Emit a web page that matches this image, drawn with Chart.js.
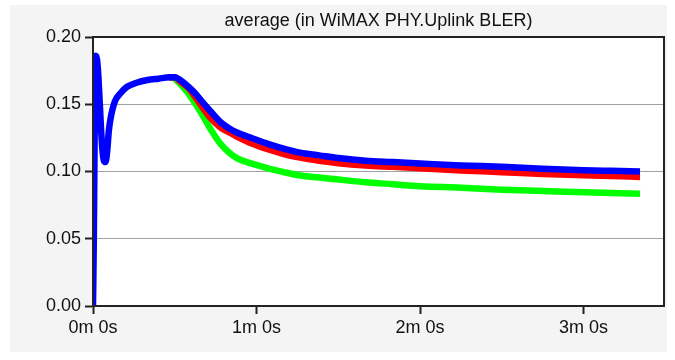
<!DOCTYPE html>
<html>
<head>
<meta charset="utf-8">
<script src="https://cdn.jsdelivr.net/npm/chart.js@4/dist/chart.umd.min.js"></script>
<style>
html,body{margin:0;padding:0;background:#fff;}
#wrap{width:675px;height:360px;}
</style>
</head>
<body>
<div id="wrap"><canvas id="c" width="675" height="360"></canvas></div>
<script>
const chartTitle = "average (in WiMAX PHY.Uplink BLER)";
const xTickValues = [0, 60, 120, 180];
const yTickValues = [0, 0.05, 0.10, 0.15, 0.20];

// time in seconds
const blueTime  = [0, 0.3, 0.5, 0.7, 1.0, 1.5, 2.0, 2.5, 3.0, 3.5, 4.0, 4.6, 5.2, 5.8, 6.5, 8, 10, 12.5, 16, 20, 24, 28, 30, 32, 35, 38, 40.4, 43, 46.6, 50, 52.8, 58, 65, 70, 76, 83, 90, 100, 110, 120, 135, 150, 165, 180, 190, 200.7];
const blueValue = [0, 0.05, 0.10, 0.15, 0.186, 0.183, 0.170, 0.150, 0.130, 0.115, 0.108, 0.107, 0.115, 0.130, 0.140, 0.152, 0.158, 0.163, 0.166, 0.168, 0.169, 0.170, 0.170, 0.168, 0.163, 0.157, 0.151, 0.145, 0.137, 0.132, 0.129, 0.125, 0.120, 0.117, 0.114, 0.112, 0.110, 0.108, 0.107, 0.106, 0.1045, 0.1035, 0.102, 0.101, 0.1005, 0.100];

const redTime  = [28, 30, 32, 35, 38, 40.4, 43, 46.6, 50, 52.8, 58, 65, 70, 76, 83, 90, 100, 110, 120, 135, 150, 165, 180, 190, 200.7];
const redValue = [0.170, 0.170, 0.167, 0.162, 0.154, 0.147, 0.140, 0.133, 0.129, 0.126, 0.121, 0.116, 0.1130, 0.1103, 0.1080, 0.1062, 0.1045, 0.1035, 0.1025, 0.1008, 0.0995, 0.0982, 0.0972, 0.0966, 0.096];

const greenTime  = [28, 30, 32, 35, 38, 40.4, 43, 46.6, 50, 52.8, 58, 65, 70, 76, 83, 90, 100, 110, 120, 135, 150, 165, 180, 190, 200.7];
const greenValue = [0.170, 0.169, 0.165, 0.158, 0.149, 0.141, 0.132, 0.121, 0.114, 0.110, 0.106, 0.102, 0.0995, 0.097, 0.0955, 0.094, 0.092, 0.0905, 0.089, 0.088, 0.0865, 0.0855, 0.0845, 0.084, 0.0835];

function pts(t, v){ return t.map((x,i)=>({x:x, y:v[i]})); }

const font = {family:"'Liberation Sans', Arial, sans-serif", size:18};

const bgPlugin = {
  id:'bg',
  beforeDraw(chart){
    const ctx = chart.ctx;
    ctx.save();
    ctx.fillStyle = '#ffffff';
    ctx.fillRect(0,0,chart.width,chart.height);
    ctx.fillStyle = '#f4f4f4';
    ctx.fillRect(10,5,657,347);
    const a = chart.chartArea;
    ctx.fillStyle = '#ffffff';
    ctx.fillRect(a.left, a.top, a.right-a.left, a.bottom-a.top);
    ctx.restore();
  },
  afterDraw(chart){
    const ctx = chart.ctx, a = chart.chartArea;
    ctx.save();
    ctx.strokeStyle = '#222';
    ctx.lineWidth = 2;
    ctx.strokeRect(a.left, a.top, a.right-a.left, a.bottom-a.top);
    // title centred over the plot area
    ctx.fillStyle = '#111';
    ctx.font = font.size + 'px ' + font.family;
    ctx.textAlign = 'center';
    ctx.textBaseline = 'middle';
    ctx.fillText(chartTitle, (a.left + a.right)/2, 21);
    ctx.restore();
  }
};

new Chart(document.getElementById('c'), {
  type:'line',
  data:{
    datasets:[
      {label:'blue', data:pts(blueTime, blueValue), borderColor:'#0000ff', backgroundColor:'#0000ff', borderWidth:6.5, pointRadius:0, cubicInterpolationMode:'monotone'},
      {label:'red', data:pts(redTime, redValue), borderColor:'#ff0000', backgroundColor:'#ff0000', borderWidth:6.5, pointRadius:0, cubicInterpolationMode:'monotone'},
      {label:'green', data:pts(greenTime, greenValue), borderColor:'#00ff00', backgroundColor:'#00ff00', borderWidth:6.5, pointRadius:0, cubicInterpolationMode:'monotone'}
    ]
  },
  options:{
    responsive:false,
    animation:false,
    devicePixelRatio:1,
    layout:{padding:{left:0, right:11, top:37, bottom:0}},
    plugins:{
      legend:{display:false},
      tooltip:{enabled:false},
      title:{display:false}
    },
    scales:{
      x:{
        type:'linear', min:0, max:209.5,
        afterBuildTicks(s){ s.ticks = xTickValues.map(v=>({value:v})); },
        afterFit(s){ s.height = 54; },
        grid:{drawOnChartArea:false, drawTicks:true, tickLength:8, tickColor:'#222', tickWidth:2},
        border:{display:true, color:'#222', width:2},
        ticks:{color:'#111', font:font, padding:3, maxRotation:0, autoSkip:false,
          callback(v){ return Math.floor(v/60)+'m '+(v%60)+'s'; }}
      },
      y:{
        min:0, max:0.2,
        afterBuildTicks(s){ s.ticks = yTickValues.map(v=>({value:v})); },
        afterFit(s){ s.width = 93; },
        grid:{color:'#a0a0a0', lineWidth:1, drawTicks:true, tickLength:8, tickColor:'#222', tickWidth:2},
        border:{display:true, color:'#222', width:2},
        ticks:{color:'#111', font:font, padding:4, callback(v){ return v.toFixed(2); }}
      }
    }
  },
  plugins:[bgPlugin]
});
</script>
</body>
</html>
